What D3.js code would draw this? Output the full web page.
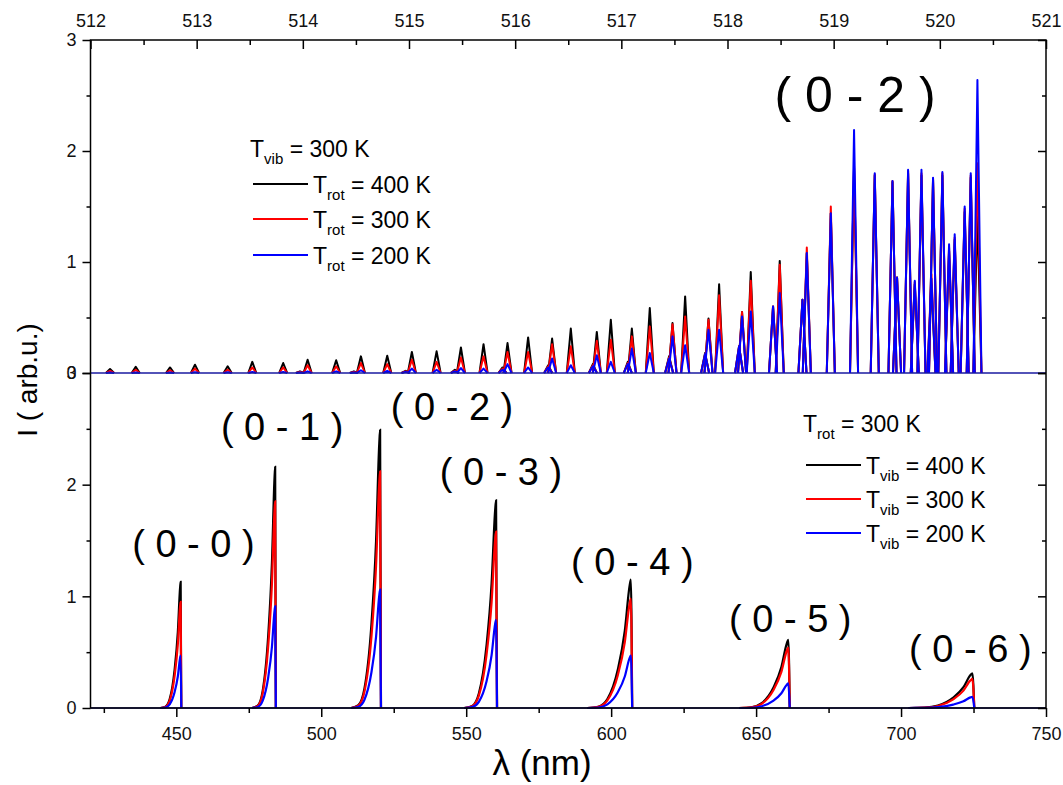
<!DOCTYPE html>
<html>
<head>
<meta charset="utf-8">
<script src="https://cdn.jsdelivr.net/npm/d3@7"></script>
<style>
  body { margin: 0; background: #fff; }
  svg { display: block; font-family: "Liberation Sans", Arial, sans-serif; }
</style>
</head>
<body>
<script>
// top panel: rotational lines of the (0-2) band, Tvib = 300 K
const topLines = [512.184, 512.426, 512.749, 512.984, 513.292, 513.524, 513.815, 513.973, 514.045, 514.314,
  514.481, 514.547, 514.795, 514.968, 515.027, 515.260, 515.432, 515.489, 515.702, 515.881,
  515.928, 516.122, 516.311, 516.348, 516.524, 516.732, 516.769, 516.901, 517.061, 517.099,
  517.268, 517.450, 517.482, 517.601, 517.789, 517.821, 517.921, 518.109, 518.137, 518.219,
  518.429, 518.492, 518.706, 518.747, 518.973, 519.192, 519.387, 519.554, 519.597, 519.701,
  519.764, 519.827, 519.921, 519.936, 520.024, 520.087, 520.140, 520.234, 520.291, 520.354];
const topRot400 = [0.036, 0.055, 0.05, 0.075, 0.06, 0.10, 0.09, 0.015, 0.12, 0.115,
  0.015, 0.15, 0.155, 0.02, 0.19, 0.195, 0.03, 0.23, 0.26, 0.05,
  0.27, 0.32, 0.07, 0.31, 0.40, 0.08, 0.37, 0.48, 0.10, 0.40,
  0.585, 0.15, 0.45, 0.69, 0.18, 0.49, 0.80, 0.24, 0.55, 0.91,
  0.60, 1.01, 0.66, 1.08, 1.44, 1.85, 1.78, 1.72, 0.86, 1.80,
  0.80, 1.78, 0.80, 1.74, 1.78, 1.10, 1.20, 1.45, 1.76, 1.43];
const topRot300 = [0.02, 0.03, 0.025, 0.04, 0.03, 0.05, 0.05, 0.01, 0.07, 0.06,
  0.01, 0.09, 0.08, 0.015, 0.12, 0.10, 0.02, 0.14, 0.15, 0.04,
  0.19, 0.19, 0.06, 0.26, 0.24, 0.07, 0.29, 0.30, 0.09, 0.33,
  0.42, 0.14, 0.44, 0.51, 0.17, 0.48, 0.70, 0.24, 0.55, 0.83,
  0.60, 0.975, 0.66, 1.13, 1.50, 1.87, 1.79, 1.73, 0.86, 1.82,
  0.82, 1.80, 0.89, 1.75, 1.80, 1.13, 1.22, 1.48, 1.78, 1.89];
const topRot200 = [0.005, 0.005, 0.005, 0.008, 0.006, 0.01, 0.01, 0.005, 0.015, 0.015,
  0.005, 0.025, 0.02, 0.01, 0.04, 0.03, 0.015, 0.045, 0.04, 0.03,
  0.08, 0.05, 0.05, 0.13, 0.07, 0.06, 0.16, 0.10, 0.08, 0.22,
  0.18, 0.13, 0.33, 0.25, 0.17, 0.39, 0.39, 0.24, 0.51, 0.555,
  0.60, 0.72, 0.66, 1.08, 1.44, 2.19, 1.80, 1.73, 0.86, 1.83,
  0.83, 1.83, 0.85, 1.76, 1.81, 1.16, 1.25, 1.50, 1.80, 2.64];

// bottom panel: vibrational bands, Trot = 300 K
const bandNames = ["( 0 - 0 )", "( 0 - 1 )", "( 0 - 2 )", "( 0 - 3 )", "( 0 - 4 )", "( 0 - 5 )", "( 0 - 6 )"];
const bandHeads = [451.5, 484.1, 520.3, 560.3, 606.8, 661.1, 724.6];
const bandSpread = [7, 8, 10, 11, 15, 17, 22];
const bandVib400 = [1.13, 2.16, 2.49, 1.86, 1.15, 0.61, 0.31];
const bandVib300 = [0.95, 1.85, 2.12, 1.58, 0.98, 0.54, 0.26];
const bandVib200 = [0.47, 0.91, 1.06, 0.79, 0.47, 0.22, 0.10];
// band contour: [offset in units of spread, fraction of head intensity]
const bandProfile = [[-1, 0], [-0.75, 0.01], [-0.54, 0.07], [-0.3, 0.3], [-0.14, 0.6], [-0.03, 0.95], [0, 1], [0.03, 0]];

// ticks
const topTicks = [512, 513, 514, 515, 516, 517, 518, 519, 520, 521];
const topMinor = [512.5, 513.5, 514.5, 515.5, 516.5, 517.5, 518.5, 519.5, 520.5];
const bottomTicks = [450, 500, 550, 600, 650, 700, 750];
const bottomMinor = [425, 475, 525, 575, 625, 675, 725];
const yTicks = [0, 1, 2, 3];
const yMinor = [0.5, 1.5, 2.5];

function getDimensions() {
  return {
    width: 1063,
    height: 785,
    left: 90.5,
    right: 1046,
    top: 40,
    middle: 373,
    bottom: 708
  }
}

function drawChart() {
  const DM = getDimensions();
  const colors = ['#000000', '#ff0000', '#0000ff'];

  const svg = d3.select('body').append('svg')
    .attr('width', DM.width)
    .attr('height', DM.height);

  const xTop = d3.scaleLinear().domain([512, 521]).range([DM.left, DM.right]);
  const yTop = d3.scaleLinear().domain([0, 3]).range([DM.middle, DM.top]);
  const xBot = d3.scaleLinear().domain([420.4, 750]).range([DM.left, DM.right]);
  const yBot = d3.scaleLinear().domain([0, 3]).range([DM.bottom, DM.middle]);

  // top panel lines
  const topLine = d3.line().x(d => xTop(d[0])).y(d => yTop(d[1]));
  const hw = 0.038;
  [topRot400, topRot300, topRot200].forEach((vals, si) => {
    const g = svg.append('g')
      .attr('fill', 'none')
      .attr('stroke', colors[si])
      .attr('stroke-width', 2)
      .attr('stroke-linejoin', 'round');
    topLines.forEach((l, i) => {
      g.append('path').attr('d', topLine([[l - hw, 0], [l, vals[i]], [l + hw, 0]]));
    });
  });
  svg.append('path')
    .attr('d', topLine([[512, 0], [521, 0]]))
    .attr('stroke', '#1a1aa0').attr('stroke-width', 1.6);

  // bottom panel bands
  const botLine = d3.line().x(d => xBot(d[0])).y(d => yBot(d[1])).curve(d3.curveMonotoneX);
  [bandVib400, bandVib300, bandVib200].forEach((vals, si) => {
    const g = svg.append('g')
      .attr('fill', 'none')
      .attr('stroke', colors[si])
      .attr('stroke-width', 2.2);
    bandHeads.forEach((h, i) => {
      const pts = bandProfile.map(p => [h + p[0] * bandSpread[i], p[1] * vals[i]]);
      g.append('path').attr('d', botLine(pts));
    });
  });
  svg.append('path')
    .attr('d', botLine([[420.4, 0], [750, 0]]))
    .attr('stroke', '#1a1aa0').attr('stroke-width', 1.6);

  // frame
  svg.append('rect')
    .attr('x', DM.left).attr('y', DM.top)
    .attr('width', DM.right - DM.left).attr('height', DM.bottom - DM.top)
    .attr('fill', 'none').attr('stroke', '#000').attr('stroke-width', 1.5);

  function styleAxis(g) {
    g.select('.domain').remove();
    g.attr('font-size', 18).attr('font-family', '"Liberation Sans", Arial, sans-serif');
    g.selectAll('line').attr('stroke-width', 1.5);
    g.selectAll('text').attr('fill', '#111');
  }

  svg.append('g').attr('transform', `translate(0,${DM.top})`)
    .call(d3.axisTop(xTop).tickValues(topTicks).tickSize(-9).tickPadding(13).tickFormat(d3.format('d')))
    .call(styleAxis);
  svg.append('g').attr('transform', `translate(0,${DM.top})`)
    .call(d3.axisTop(xTop).tickValues(topMinor).tickSize(-5).tickFormat(''))
    .call(styleAxis);

  svg.append('g').attr('transform', `translate(0,${DM.bottom})`)
    .call(d3.axisBottom(xBot).tickValues(bottomTicks).tickSize(9).tickPadding(10).tickFormat(d3.format('d')))
    .call(styleAxis);
  svg.append('g').attr('transform', `translate(0,${DM.bottom})`)
    .call(d3.axisBottom(xBot).tickValues(bottomMinor).tickSize(5).tickFormat(''))
    .call(styleAxis);

  [yTop, yBot].forEach(ys => {
    svg.append('g').attr('transform', `translate(${DM.left},0)`)
      .call(d3.axisLeft(ys).tickValues(yTicks).tickSize(8).tickPadding(6).tickFormat(d3.format('d')))
      .call(styleAxis);
    svg.append('g').attr('transform', `translate(${DM.left},0)`)
      .call(d3.axisLeft(ys).tickValues(yMinor).tickSize(4).tickFormat(''))
      .call(styleAxis);
    svg.append('g').attr('transform', `translate(${DM.right},0)`)
      .call(d3.axisRight(ys).tickValues(yTicks).tickSize(-8).tickFormat(''))
      .call(styleAxis);
    svg.append('g').attr('transform', `translate(${DM.right},0)`)
      .call(d3.axisRight(ys).tickValues(yMinor).tickSize(-4).tickFormat(''))
      .call(styleAxis);
  });

  // axis titles
  svg.append('text')
    .attr('transform', `translate(37,380) rotate(-90)`)
    .attr('text-anchor', 'middle')
    .attr('font-size', 28)
    .text('I ( arb.u.)');
  svg.append('text')
    .attr('x', 542).attr('y', 775)
    .attr('text-anchor', 'middle')
    .attr('font-size', 35)
    .text('λ (nm)');

  // band labels
  svg.append('text')
    .attr('x', 855).attr('y', 112)
    .attr('text-anchor', 'middle')
    .attr('font-size', 50)
    .text('( 0 - 2 )');
  const labelAt = [[455.9, 1.35], [486.5, 2.40], [545.1, 2.58], [562.0, 2.0], [607.3, 1.19], [661.8, 0.68], [723.9, 0.41]];
  bandNames.forEach((n, i) => {
    svg.append('text')
      .attr('x', xBot(labelAt[i][0])).attr('y', yBot(labelAt[i][1]))
      .attr('text-anchor', 'middle')
      .attr('font-size', 38)
      .text(n);
  });

  // legends
  function legend(x0, headY, rowY, fixedSub, fixedVal, varSub, labels) {
    const head = svg.append('text').attr('x', x0).attr('y', headY).attr('font-size', 23);
    head.append('tspan').text('T');
    head.append('tspan').attr('font-size', 15).attr('dy', 7).text(fixedSub);
    head.append('tspan').attr('dy', -7).text(' = ' + fixedVal);
    labels.forEach((lab, i) => {
      const y = rowY[i];
      svg.append('line')
        .attr('x1', x0 + 3).attr('x2', x0 + 58)
        .attr('y1', y).attr('y2', y)
        .attr('stroke', colors[i]).attr('stroke-width', 1.8);
      const t = svg.append('text').attr('x', x0 + 63).attr('y', y + 9).attr('font-size', 23);
      t.append('tspan').text('T');
      t.append('tspan').attr('font-size', 15).attr('dy', 7).text(varSub);
      t.append('tspan').attr('dy', -7).text(' = ' + lab);
    });
  }
  legend(250, 157, [184, 219, 255], 'vib', '300 K', 'rot', ['400 K', '300 K', '200 K']);
  legend(803, 432, [465, 499, 533], 'rot', '300 K', 'vib', ['400 K', '300 K', '200 K']);
}

drawChart();
</script>
</body>
</html>
